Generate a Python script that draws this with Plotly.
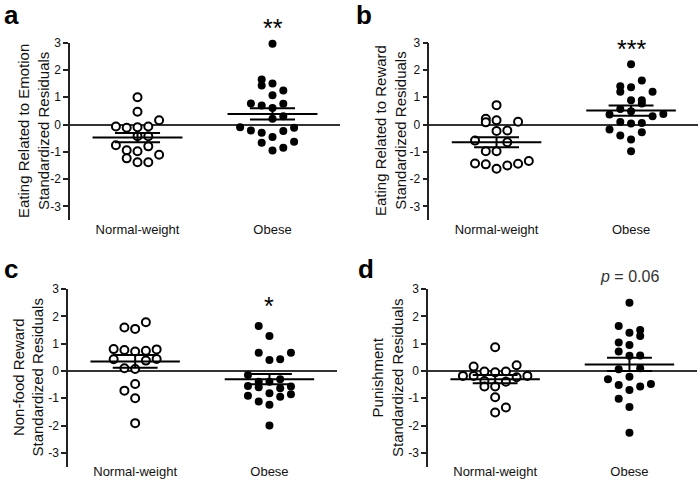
"""Scatter of standardized residuals, normal-weight vs obese, four panels."""

import plotly.graph_objects as go

W, H = 700, 482
FONT = "Arial, Liberation Sans, sans-serif"

GROUPS = ["Normal-weight", "Obese"]
Y_TICKS = [3, 2, 1, 0, -1, -2, -3]
Y_TICK_TEXT = ["3", "2", "1", "0", "-1", "-2", "-3"]

# panel a - eating related to emotion
a_nw = [1.0, 0.47, 0.16, -0.07, -0.12, -0.10, -0.07, -0.43, -0.43, -0.76, -0.94,
        -0.98, -0.80, -1.11, -1.24, -1.38, -1.38]
a_nw_col = [0, 0, 2, -2, -1, 0, 1, 0, 1, -2, -1, 0, 1, 2, -1, 0, 1]
a_ob = [2.96, 1.65, 1.43, 1.50, 1.25, 1.07, 0.77, 0.70, 0.61, 0.76, 0.21, 0.30,
        -0.10, -0.22, -0.30, -0.24, -0.12, -0.46, -0.67, -0.63, -0.85, -0.95]
a_ob_col = [0, -1, -1, 0, 1, 0, -2, -1, 0, 1, 0, 1, -3, -2, -1, 1, 2, 0, -1, 2, 1, 0]
a_mean = [-0.48, 0.39]
a_sem = [0.17, 0.21]

# panel b - eating related to reward
b_nw = [0.71, 0.21, 0.08, 0.16, 0.10, -0.24, -0.22, -0.59, -0.65, -0.98, -0.98,
        -1.43, -1.46, -1.62, -1.50, -1.44, -1.34]
b_nw_col = [0, -1, -1, 0, 2, 0, 1, -2, 1, -1, 0, -2, -1, 0, 1, 2, 3]
b_ob = [2.21, 1.61, 1.40, 1.20, 1.37, 1.20, 0.89, 0.89, 0.77, 0.57, 0.49, 0.37,
        0.30, 0.39, 0.09, 0.04, 0.06, -0.18, -0.28, -0.40, -0.55, -0.98]
b_ob_col = [0, 1, -1, -1, 0, 2, 0, 1, 1, -1, 0, -2, 2, 3, -1, 0, 1, -2, 1, -1, 0, 0]
b_mean = [-0.65, 0.51]
b_sem = [0.185, 0.185]

# panel c - non-food reward
c_nw = [1.59, 1.54, 1.78, 0.80, 0.77, 0.71, 0.74, 0.79, 0.43, 0.38, 0.44, 0.10,
        0.07, -0.48, -0.72, -1.0, -1.91]
c_nw_col = [-1, 0, 1, -2, -1, 0, 1, 2, -2, 1, 2, -1, 0, 0, -1, 0, 0]
c_ob = [1.65, 1.28, 0.67, 0.67, 0.40, 0.43, -0.15, -0.39, -0.39, -0.30, -0.55,
        -0.60, -0.63, -0.57, -0.91, -0.82, -0.94, -0.85, -1.12, -1.24, -2.0]
c_ob_col = [-1, 0, -1, 2, 0, 1, -2, -1, 0, 1, -2, -1, 1, 2, -2, 0, 1, 2, -1, 0, 0]
c_mean = [0.35, -0.30]
c_sem = [0.235, 0.185]

# panel d - punishment
d_nw = [0.87, 0.16, 0.21, -0.18, -0.18, -0.02, -0.05, -0.02, -0.23, -0.18, -0.37,
        -0.39, -0.57, -0.57, -0.96, -1.34, -1.52]
d_nw_col = [0, -2, 2, -3, -2, -1, 0, 1, 2, 3, -1, 1, -1, 0, 0, 1, 0]
d_ob = [2.50, 1.65, 1.40, 1.50, 1.28, 1.04, 0.95, 0.71, 0.56, 0.57, 0.06, 0.10,
        -0.21, -0.30, -0.51, -0.70, -0.57, -0.48, -1.02, -1.32, -2.26]
d_ob_col = [0, -1, 0, 1, 1, -1, 0, -1, 0, 1, -1, 1, 0, -2, -1, 0, 1, 2, -1, 0, 0]
d_mean = [-0.30, 0.24]
d_sem = [0.15, 0.245]

y_titles = ["Eating Related to Emotion<br>Standardized Residuals",
            "Eating Related to Reward<br>Standardized Residuals",
            "Non-food Reward<br>Standardized Residuals",
            "Punishment<br>Standardized Residuals"]
letters = ["a", "b", "c", "d"]
sig_labels = ["**", "***", "*", "<i>p</i> = 0.06"]

STEP = 0.08       # horizontal spacing of stacked points, in category units
MEAN_HALF = 0.333
SEM_HALF = 0.167

# pixel boxes of the plot areas: (left, right, top, bottom)
boxes = [(70, 340, 42.7, 220), (429.3, 698.3, 42.7, 220),
         (68, 336.6, 289, 466.6), (428, 696.6, 289, 466.6)]
label_lift = [0, 0, 5, 5]   # raise the group labels of the bottom row a little
title_pos = [(34, 131), (391, 131), (27.5, 378), (387, 378)]
letter_pos = [(2, 15), (354, 15), (2, 269), (356, 269)]
sig_pos_y = [28, 49.3, 306, 276]

panels = [
    (a_nw, a_nw_col, a_ob, a_ob_col, a_mean, a_sem),
    (b_nw, b_nw_col, b_ob, b_ob_col, b_mean, b_sem),
    (c_nw, c_nw_col, c_ob, c_ob_col, c_mean, c_sem),
    (d_nw, d_nw_col, d_ob, d_ob_col, d_mean, d_sem),
]

fig = go.Figure()
annotations = []

for i, (nw, nw_col, ob, ob_col, means, sems) in enumerate(panels):
    n = i + 1
    xa = "x" if n == 1 else f"x{n}"
    ya = "y" if n == 1 else f"y{n}"

    fig.add_trace(go.Scatter(
        x=[1 + c * STEP for c in nw_col], y=nw, mode="markers",
        marker=dict(symbol="circle", size=8, color="white",
                    line=dict(color="black", width=2)),
        xaxis=xa, yaxis=ya, showlegend=False, cliponaxis=False,
    ))
    fig.add_trace(go.Scatter(
        x=[2 + c * STEP for c in ob_col], y=ob, mode="markers",
        marker=dict(symbol="circle", size=8, color="black", line=dict(width=0)),
        xaxis=xa, yaxis=ya, showlegend=False, cliponaxis=False,
    ))

    # mean with SEM bars
    lx, ly = [], []
    for g, (m, s) in enumerate(zip(means, sems)):
        cx = g + 1
        lx += [cx - MEAN_HALF, cx + MEAN_HALF, None]
        ly += [m, m, None]
        for yy in (m + s, m - s):
            lx += [cx - SEM_HALF, cx + SEM_HALF, None]
            ly += [yy, yy, None]
        lx += [cx, cx, None]
        ly += [m - s, m + s, None]
    fig.add_trace(go.Scatter(
        x=lx, y=ly, mode="lines", line=dict(color="black", width=2),
        xaxis=xa, yaxis=ya, showlegend=False, hoverinfo="skip",
    ))

    left, right, top, bottom = boxes[i]
    fig.layout[f"xaxis{'' if n == 1 else n}"] = dict(
        domain=[left / W, right / W], range=[0.5, 2.5],
        anchor="free", position=1 - (bottom - label_lift[i]) / H,
        tickvals=[1, 2], ticktext=GROUPS, showline=False, ticks="",
        showgrid=False, zeroline=False, fixedrange=True, automargin=False,
        tickfont=dict(family=FONT, size=13, color="#111"),
    )
    fig.layout[f"yaxis{'' if n == 1 else n}"] = dict(
        domain=[1 - bottom / H, 1 - top / H], range=[-3.5, 3], anchor=xa,
        tickvals=Y_TICKS, ticktext=Y_TICK_TEXT, ticks="outside", ticklen=5,
        tickwidth=1.5, tickcolor="#222", showline=True, linecolor="#222",
        linewidth=1.5, showgrid=False, zeroline=True, zerolinecolor="#333",
        zerolinewidth=1.5, fixedrange=True, automargin=False,
        tickfont=dict(family=FONT, size=12, color="#111"),
    )

    tx, ty = title_pos[i]
    annotations.append(dict(
        text=y_titles[i], x=tx / W, y=1 - ty / H, xref="paper", yref="paper",
        textangle=-90, showarrow=False, xanchor="center", yanchor="middle",
        font=dict(family=FONT, size=15, color="#111"),
    ))
    lpx, lpy = letter_pos[i]
    annotations.append(dict(
        text=f"<b>{letters[i]}</b>", x=lpx / W, y=1 - lpy / H,
        xref="paper", yref="paper", showarrow=False,
        xanchor="left", yanchor="middle",
        font=dict(family=FONT, size=26, color="black"),
    ))
    is_p = i == 3
    annotations.append(dict(
        text=sig_labels[i], x=(left + 1.5 / 2 * (right - left)) / W,
        y=1 - sig_pos_y[i] / H, xref="paper", yref="paper",
        showarrow=False, xanchor="center", yanchor="middle",
        font=dict(family=FONT, size=16 if is_p else 25,
                  color="#333" if is_p else "black"),
    ))

fig.update_layout(
    width=W, height=H, margin=dict(l=0, r=0, t=0, b=0, autoexpand=False),
    paper_bgcolor="white", plot_bgcolor="white",
    annotations=annotations,
)

# drop the default page margin so the figure sits at the window's corner
fig.write_html("out.html", config={"displayModeBar": False},
               post_script="document.body.style.margin = '0';")
